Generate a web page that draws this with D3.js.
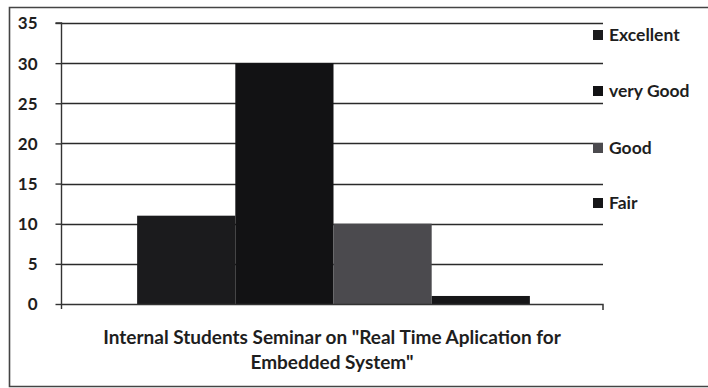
<!DOCTYPE html>
<html>
<head>
<meta charset="utf-8">
<script src="https://cdn.jsdelivr.net/npm/d3@7"></script>
<style>
  html, body { margin: 0; padding: 0; background: #fff; }
  svg { display: block; }
  text { font-family: Lato, "Open Sans", sans-serif; fill: #1e1e1e; font-weight: 700; }
</style>
</head>
<body>
<svg id="chart" width="708" height="388"></svg>
<script>
// Seminar rating counts, one bar per rating
const categories = ["Excellent", "very Good", "Good", "Fair"];
const values = [11, 30, 10, 1];
const colors = ["#1b1b1d", "#121214", "#4b4a4e", "#161618"];
const yTicks = [0, 5, 10, 15, 20, 25, 30, 35];
const axisTitle = ["Internal Students Seminar on \"Real Time Aplication for", "Embedded System\""];

const svg = d3.select("#chart");
const W = 708, H = 388;

// Outer chart frame
svg.append("path")
  .attr("d", `M${W},7.5 H9.5 V386.5 H${W}`)
  .attr("fill", "none").attr("stroke", "#444").attr("stroke-width", 1.6);

const plot = { left: 61, right: 603, top: 23, bottom: 304 };

const y = d3.scaleLinear().domain([0, 35]).range([plot.bottom, plot.top]);

// Single category group; bars sit side by side with a gap on both sides
const outer = d3.scaleBand().domain(["all"]).range([plot.left, plot.right])
  .paddingInner(0).paddingOuter(0.19);
const inner = d3.scaleBand().domain(categories)
  .range([outer("all") + 1.5, outer("all") + outer.bandwidth() + 1.5]).padding(0);

// Horizontal gridlines
svg.append("g").selectAll("line").data(yTicks.filter(t => t > 0)).join("line")
  .attr("x1", plot.left).attr("x2", plot.right)
  .attr("y1", d => Math.round(y(d)) + 0.5).attr("y2", d => Math.round(y(d)) + 0.5)
  .attr("stroke", "#2a2a2a").attr("stroke-width", 1.5);

// Bars
svg.append("g").selectAll("rect").data(values).join("rect")
  .attr("x", (d, i) => inner(categories[i]))
  .attr("width", inner.bandwidth())
  .attr("y", d => y(d))
  .attr("height", d => y(0) - y(d))
  .attr("fill", (d, i) => colors[i]);

// Y axis
const yAxis = d3.axisLeft(y).tickValues(yTicks).tickSize(6).tickPadding(18);
const gy = svg.append("g").attr("transform", `translate(${plot.left + 0.5},0)`).call(yAxis);
gy.select(".domain").attr("stroke", "#333").attr("stroke-width", 1.4)
  .attr("d", `M-6,${plot.top}H0V${plot.bottom + 5}`);
gy.selectAll(".tick line").attr("stroke", "#333").attr("stroke-width", 1.4);
gy.selectAll(".tick text").attr("font-size", 17).attr("font-family", "Lato, sans-serif")
  .attr("font-weight", 700).attr("fill", "#1e1e1e").attr("dy", "0.35em");

// X axis baseline with end tick
svg.append("path")
  .attr("d", `M${plot.left},${plot.bottom + 0.5}H${plot.right}V${plot.bottom + 6}`)
  .attr("fill", "none").attr("stroke", "#333").attr("stroke-width", 1.5);

// Axis title
const title = svg.append("text").attr("text-anchor", "middle").attr("font-size", 19);
axisTitle.forEach((line, i) => {
  title.append("tspan").attr("x", 332).attr("y", 344 + i * 25).text(line);
});

// Legend
const legendY = [35, 91, 148, 203];
const lg = svg.append("g").selectAll("g").data(categories).join("g")
  .attr("transform", (d, i) => `translate(593,${legendY[i]})`);
lg.append("rect").attr("x", 0).attr("y", -5).attr("width", 10).attr("height", 10)
  .attr("fill", (d, i) => colors[i]);
lg.append("text").attr("x", 16).attr("dy", "0.36em").attr("font-size", 17.5).text(d => d);
</script>
</body>
</html>
